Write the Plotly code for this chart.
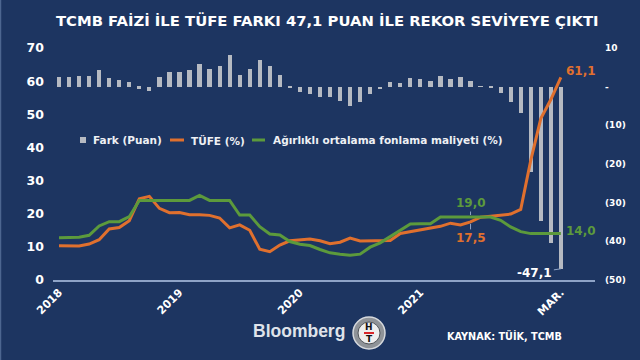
import plotly.graph_objects as go

# ---- data (monthly, Jan 2018 - Mar 2022) ----
months = list(range(51))
tick_positions = [0, 12, 24, 36, 50]
tick_labels = ["2018", "2019", "2020", "2021", "MAR."]

tufe = [10.35, 10.26, 10.23, 10.85, 12.15, 15.39, 15.85, 17.90, 24.52, 25.24, 21.62, 20.30,
        20.35, 19.67, 19.71, 19.50, 18.71, 15.72, 16.65, 15.01, 9.26, 8.55, 10.56, 11.84,
        12.15, 12.37, 11.86, 10.94, 11.39, 12.62, 11.76, 11.77, 11.75, 11.89, 14.03, 14.60,
        14.97, 15.61, 16.19, 17.14, 16.59, 17.53, 18.95, 19.25, 19.58, 19.89, 21.31, 36.08,
        48.69, 54.44, 61.14]

aofm = [12.75, 12.75, 12.9, 13.5, 16.3, 17.6, 17.6, 19.1, 24.0, 24.0, 24.0, 24.0,
        24.0, 24.0, 25.5, 24.0, 24.0, 24.0, 19.6, 19.6, 16.1, 13.9, 13.6, 11.6,
        10.8, 10.4, 9.2, 8.2, 7.8, 7.5, 7.8, 9.9, 11.2, 13.1, 14.9, 16.9,
        17.0, 17.0, 19.0, 19.0, 19.0, 19.0, 19.0, 19.0, 18.0, 16.0, 14.6, 14.0,
        14.0, 14.0, 14.0]

fark = [2.4, 2.5, 2.7, 2.7, 4.2, 2.2, 1.8, 1.2, -0.5, -1.2, 2.4, 3.7,
        3.7, 4.3, 5.8, 4.5, 5.3, 8.3, 3.0, 4.6, 6.8, 5.4, 3.0, -0.2,
        -1.4, -2.0, -2.7, -2.7, -3.6, -5.1, -4.0, -1.9, -0.6, 1.2, 0.9, 2.3,
        2.0, 1.4, 2.8, 1.9, 2.4, 1.5, 0.1, -0.3, -1.6, -3.9, -6.7, -22.1,
        -34.7, -40.4, -47.1]

right_ticks = [-50, -40, -30, -20, -10, 0, 10]
right_labels = ["(50)", "(40)", "(30)", "(20)", "(10)", "-", "10"]
left_ticks = [0, 10, 20, 30, 40, 50, 60, 70]

# ---- style ----
BG = "#1d3561"
ORANGE = "#e0702e"
GREEN = "#5c9a3c"
GRAY = "#b6bac2"
FONT = "DejaVu Sans"
W, H = 640, 360
ML, MR, MT, MB = 53, 45, 48, 80
PW, PH = W - ML - MR, H - MT - MB


def px(x):
    return (x - ML) / PW


def py(y):
    return (H - MB - y) / PH


fig = go.Figure()
fig.add_trace(go.Bar(x=months, y=fark, name="Fark (Puan)", marker_color=GRAY,
                     marker_line_width=0, width=0.42, yaxis="y", showlegend=False))
fig.add_trace(go.Scatter(x=months, y=tufe, name="TÜFE (%)", mode="lines",
                         line=dict(color=ORANGE, width=3), yaxis="y2", showlegend=False))
fig.add_trace(go.Scatter(x=months, y=aofm, name="Ağırlıklı ortalama fonlama maliyeti (%)",
                         mode="lines", line=dict(color=GREEN, width=3), yaxis="y2",
                         showlegend=False))

fig.update_layout(
    width=W, height=H,
    paper_bgcolor=BG, plot_bgcolor=BG,
    margin=dict(l=ML, r=MR, t=MT, b=MB, autoexpand=False),
    bargap=0,
    font=dict(family=FONT, color="white"),
    xaxis=dict(range=[-0.6, 53.4], tickvals=tick_positions, ticktext=tick_labels,
               tickangle=-45, showgrid=False, zeroline=False, showline=True,
               linecolor="#8ea3c7", linewidth=1.5, ticks="",
               tickfont=dict(family=FONT, size=11, color="white", weight="bold")),
    yaxis=dict(side="right", range=[-50, 10], tickmode="array", tickvals=right_ticks,
               ticktext=right_labels, ticklabeloverflow="allow",
               showgrid=False, zeroline=False, showline=False, ticks="",
               ticklabelstandoff=9,
               tickfont=dict(family=FONT, size=9, color="white", weight="bold")),
    yaxis2=dict(side="left", overlaying="y", range=[0, 70], tickvals=left_ticks,
                showgrid=False, zeroline=False, showline=False, ticks="",
                ticklabelstandoff=8,
                tickfont=dict(family=FONT, size=12.5, color="white", weight="bold")),
)

shapes = []
annotations = []

# title
annotations.append(dict(xref="paper", yref="paper", x=px(327), y=py(21),
                        text="TCMB FAİZİ İLE TÜFE FARKI 47,1 PUAN İLE REKOR SEVİYEYE ÇIKTI",
                        showarrow=False, xanchor="center", yanchor="middle",
                        font=dict(family=FONT, size=14.8, color="white", weight="bold")))

# legend (manual)
LY = 140
shapes.append(dict(type="rect", xref="paper", yref="paper", x0=px(80), x1=px(86),
                   y0=py(LY + 3), y1=py(LY - 3), fillcolor=GRAY, line_width=0))
shapes.append(dict(type="line", xref="paper", yref="paper", x0=px(170), x1=px(184),
                   y0=py(LY), y1=py(LY), line=dict(color=ORANGE, width=3)))
shapes.append(dict(type="line", xref="paper", yref="paper", x0=px(252), x1=px(265),
                   y0=py(LY), y1=py(LY), line=dict(color=GREEN, width=3)))
for xx, label in [(91, "Fark (Puan)"), (189, "TÜFE (%)"),
                  (271, "Ağırlıklı ortalama fonlama maliyeti (%)")]:
    annotations.append(dict(xref="paper", yref="paper", x=px(xx), y=py(LY), text=label,
                            showarrow=False, xanchor="left", yanchor="middle",
                            font=dict(family=FONT, size=10.5, color="#eef0f4", weight="bold")))

# data labels
last = months[-1]
annotations.append(dict(x=last, y=tufe[-1], xref="x", yref="y2", text="61,1",
                        showarrow=False, xanchor="left", yanchor="middle", xshift=3, yshift=6,
                        font=dict(family=FONT, size=12, color=ORANGE, weight="bold")))
annotations.append(dict(x=last, y=aofm[-1], xref="x", yref="y2", text="14,0",
                        showarrow=False, xanchor="left", yanchor="middle", xshift=3, yshift=3,
                        font=dict(family=FONT, size=12, color=GREEN, weight="bold")))
annotations.append(dict(x=41, y=aofm[41], xref="x", yref="y2", text="19,0",
                        showarrow=True, arrowhead=0, arrowwidth=1, arrowcolor="#8ea3c7",
                        ax=0, ay=-14, standoff=2,
                        font=dict(family=FONT, size=12, color=GREEN, weight="bold")))
annotations.append(dict(x=41, y=tufe[41], xref="x", yref="y2", text="17,5",
                        showarrow=True, arrowhead=0, arrowwidth=1, arrowcolor="#8ea3c7",
                        ax=0, ay=16, standoff=2,
                        font=dict(family=FONT, size=12, color=ORANGE, weight="bold")))
annotations.append(dict(x=last, y=fark[-1], xref="x", yref="y", text="-47,1",
                        showarrow=True, arrowhead=0, arrowwidth=1, arrowcolor="#8ea3c7",
                        ax=-26, ay=4, standoff=0,
                        font=dict(family=FONT, size=12, color="white", weight="bold")))

# footer: Bloomberg HT logo + source
annotations.append(dict(xref="paper", yref="paper", x=px(299), y=py(331), text="Bloomberg",
                        showarrow=False, xanchor="center", yanchor="middle",
                        font=dict(family="Liberation Sans", size=17.5, color="#dfe3ea",
                                  weight="bold")))
cx, cy = 369, 333
shapes.append(dict(type="circle", xref="paper", yref="paper",
                   x0=px(cx - 16), x1=px(cx + 16), y0=py(cy + 16), y1=py(cy - 16),
                   fillcolor="#8f9398", line=dict(color="#d6d9dd", width=1.5)))
shapes.append(dict(type="circle", xref="paper", yref="paper",
                   x0=px(cx - 11), x1=px(cx + 11), y0=py(cy + 11), y1=py(cy - 11),
                   fillcolor="#eeeeee", line=dict(color="#505458", width=1)))
shapes.append(dict(type="line", xref="paper", yref="paper", x0=px(cx - 5), x1=px(cx + 5),
                   y0=py(cy), y1=py(cy), line=dict(color="#d8262a", width=2)))
annotations.append(dict(xref="paper", yref="paper", x=px(cx), y=py(cy - 6), text="H",
                        showarrow=False, xanchor="center", yanchor="middle",
                        font=dict(family=FONT, size=9, color="#111111", weight="bold")))
annotations.append(dict(xref="paper", yref="paper", x=px(cx), y=py(cy + 6), text="T",
                        showarrow=False, xanchor="center", yanchor="middle",
                        font=dict(family=FONT, size=9, color="#111111", weight="bold")))
annotations.append(dict(xref="paper", yref="paper", x=px(445), y=py(335),
                        text="KAYNAK: TÜİK, TCMB", showarrow=False,
                        xanchor="left", yanchor="middle",
                        font=dict(family=FONT, size=9.7, color="white", weight="bold")))

# light left border
shapes.append(dict(type="line", xref="paper", yref="paper", x0=px(0.5), x1=px(0.5),
                   y0=py(0), y1=py(H), line=dict(color="#4d6690", width=1.5)))

fig.update_layout(shapes=shapes, annotations=annotations)
fig.write_html("out.html", config={"displayModeBar": False},
               post_script="document.body.style.margin='0';")
